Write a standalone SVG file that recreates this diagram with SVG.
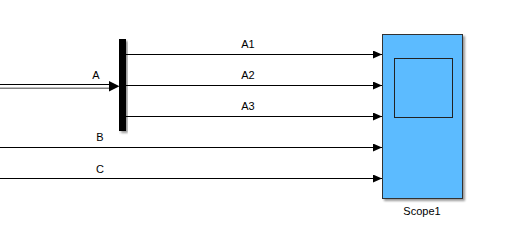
<svg xmlns="http://www.w3.org/2000/svg" width="517" height="244" viewBox="0 0 517 244">
<style>
.ln{stroke:#000;stroke-width:1;fill:none}
.lbl{font-family:"Liberation Sans",Arial,sans-serif;font-size:11px;fill:#000;text-anchor:middle}
</style>
<defs>
<marker id="ah" markerWidth="9" markerHeight="8" refX="9" refY="4" orient="auto" markerUnits="userSpaceOnUse">
<path d="M0,0 L9,4 L0,8 Z" fill="#000"/>
</marker>
<filter id="sh" x="-10%" y="-10%" width="130%" height="130%">
<feGaussianBlur in="SourceAlpha" stdDeviation="1.2"/>
<feOffset dx="1.5" dy="1.5"/>
<feComponentTransfer><feFuncA type="linear" slope="0.4"/></feComponentTransfer>
<feMerge><feMergeNode/><feMergeNode in="SourceGraphic"/></feMerge>
</filter>
</defs>
<rect width="517" height="244" fill="#fff"/>
<g id="connectors">
<path d="M0,84.5 H112 M0,88 H112" class="ln"/>
<path d="M0,86.25 H112" stroke="#fff" stroke-width="2.5" fill="none"/>
<path d="M109,81 L119.5,86.25 L109,91.5 Z" fill="#000"/>
<text class="lbl" x="96" y="79">A</text>
<path d="M126,54.5 H382" class="ln" marker-end="url(#ah)"/>
<text class="lbl" x="248" y="48">A1</text>
<path d="M126,85.5 H382" class="ln" marker-end="url(#ah)"/>
<text class="lbl" x="248" y="79">A2</text>
<path d="M126,116.5 H382" class="ln" marker-end="url(#ah)"/>
<text class="lbl" x="248" y="110">A3</text>
<path d="M0,147.5 H382" class="ln" marker-end="url(#ah)"/>
<text class="lbl" x="100" y="141">B</text>
<path d="M0,178.5 H382" class="ln" marker-end="url(#ah)"/>
<text class="lbl" x="100" y="173">C</text>
</g>
<g id="demux">
<rect x="119" y="39" width="7" height="92" fill="#000" filter="url(#sh)"/>
</g>
<g id="scope1">
<rect x="382.5" y="34.5" width="80" height="164" fill="#5CBBFF" stroke="#333" stroke-width="1" filter="url(#sh)"/>
<rect x="394.5" y="58.5" width="58" height="59" fill="#5CBBFF" stroke="#222" stroke-width="1"/>
<text class="lbl" x="422" y="215">Scope1</text>
</g>
</svg>
